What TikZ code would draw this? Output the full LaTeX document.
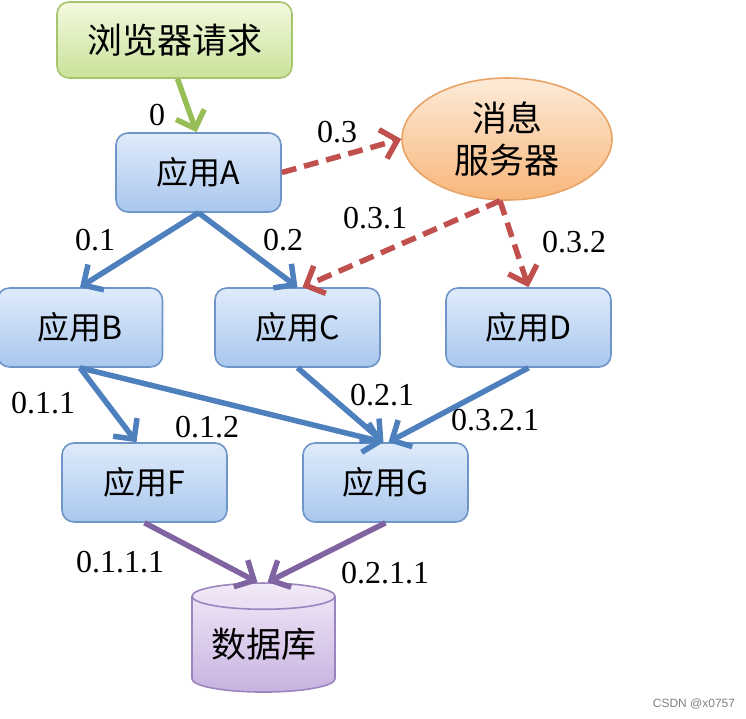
\documentclass[tikz,border=0pt]{standalone}
\usepackage{fontspec}
\setmainfont{Liberation Serif}
\newfontfamily\cjk{Noto Sans CJK SC}
\newfontfamily\wmfont{Liberation Sans}
\usepackage{xcolor}
\usetikzlibrary{arrows.meta, shapes.geometric}

\definecolor{appTop}{HTML}{DFEBFA}
\definecolor{appBot}{HTML}{A9C7EE}
\definecolor{appLine}{HTML}{7095C8}
\definecolor{webTop}{HTML}{F3F9DF}
\definecolor{webBot}{HTML}{C9E29A}
\definecolor{webLine}{HTML}{A6C56C}
\definecolor{msgTop}{HTML}{FDEBD8}
\definecolor{msgBot}{HTML}{F8B67A}
\definecolor{msgLine}{HTML}{E8A466}
\definecolor{dbTop}{HTML}{F2EAF8}
\definecolor{dbBot}{HTML}{C8B2E0}
\definecolor{dbLine}{HTML}{9C84BE}
\definecolor{blueArrow}{HTML}{4F80BE}
\definecolor{greenArrow}{HTML}{98BE58}
\definecolor{redArrow}{HTML}{C0504D}
\definecolor{purpleArrow}{HTML}{8064A2}

\begin{document}
\begin{tikzpicture}[x=1pt, y=-1pt,
    app/.style={draw=appLine, line width=1.6pt, rounded corners=12pt, top color=appTop, bottom color=appBot,
        minimum width=165pt, minimum height=79pt, inner sep=0pt, font=\cjk\fontsize{32}{36}\selectfont},
    num/.style={inner sep=0pt, font=\fontsize{32}{34}\selectfont},
    flow/.style={line width=5.5pt, -{Straight Barb[length=15pt, width=30pt]}},
    blueflow/.style={flow, draw=blueArrow},
    redflow/.style={flow, draw=redArrow, dash pattern=on 15pt off 8pt},
    greenflow/.style={flow, draw=greenArrow},
    purpleflow/.style={flow, draw=purpleArrow}]
    \useasboundingbox (0,0) rectangle (746,719);
    % boxes
    \node[draw=webLine, line width=1.6pt, rounded corners=12pt, top color=webTop, bottom color=webBot,
        minimum width=235pt, minimum height=76pt, inner sep=0pt, font=\cjk\fontsize{35}{38}\selectfont]
        (web) at (174.5,40) {浏览器请求};
    \node[app] (A) at (198.5,172.5) {应用A};
    \node[draw=msgLine, line width=1.6pt, ellipse, top color=msgTop, bottom color=msgBot,
        minimum width=210pt, minimum height=122pt, inner sep=0pt, align=center,
        font=\cjk\fontsize{35}{42}\selectfont] (msg) at (507,139) {消息\\服务器};
    \node[app] (B) at (80,327.5) {应用B};
    \node[app] (C) at (297.5,327.5) {应用C};
    \node[app] (D) at (528.5,327.5) {应用D};
    \node[app] (F) at (144.5,482.5) {应用F};
    \node[app] (G) at (385.5,482.5) {应用G};
    \node[draw=dbLine, line width=1.6pt, cylinder, shape border rotate=90, aspect=0.25,
        top color=dbTop, bottom color=dbBot, minimum width=143pt, minimum height=109pt, inner sep=0pt,
        font=\cjk\fontsize{35}{38}\selectfont] (db) at (263.5,644.5) {数据库};

    % connectors
    \draw[greenflow] ([xshift=3pt]web.south) -- ([xshift=-2pt]A.north);
    \draw[redflow] (A.east) -- (msg.west);
    \draw[blueflow] (A.south) -- (B.north);
    \draw[blueflow] (A.south) -- (C.north);
    \draw[redflow] ([xshift=-7pt]msg.south) -- ([xshift=5pt]C.north);
    \draw[redflow] ([xshift=-7pt]msg.south) -- (D.north);
    \draw[blueflow] (B.south) -- ([xshift=-8pt]F.north);
    \draw[blueflow] (B.south) -- ([xshift=-2pt]G.north);
    \draw[blueflow] (C.south) -- ([xshift=-2pt]G.north);
    \draw[blueflow] (D.south) -- ([xshift=3pt]G.north);
    \draw[purpleflow] (F.south) -- ([xshift=-6pt]db.north);
    \draw[purpleflow] (G.south) -- ([xshift=4pt]db.north);

    % labels
    \node[num] (l0) at (157,115) {0};
    \node[num] (l03) at (337,132) {0.3};
    \node[num] (l01) at (95,240) {0.1};
    \node[num] (l02) at (283,240) {0.2};
    \node[num] (l031) at (375,218) {0.3.1};
    \node[num] (l032) at (574,242) {0.3.2};
    \node[num] (l011) at (43,403) {0.1.1};
    \node[num] (l012) at (207,427) {0.1.2};
    \node[num] (l021) at (382,395) {0.2.1};
    \node[num] (l0321) at (495,420) {0.3.2.1};
    \node[num] (l0111) at (120,562) {0.1.1.1};
    \node[num] (l0211) at (385,573) {0.2.1.1};
    \node[inner sep=0pt, text=gray, font=\wmfont\fontsize{12}{14}\selectfont] (wm) at (694,704) {CSDN @x0757};
\end{tikzpicture}
\end{document}
